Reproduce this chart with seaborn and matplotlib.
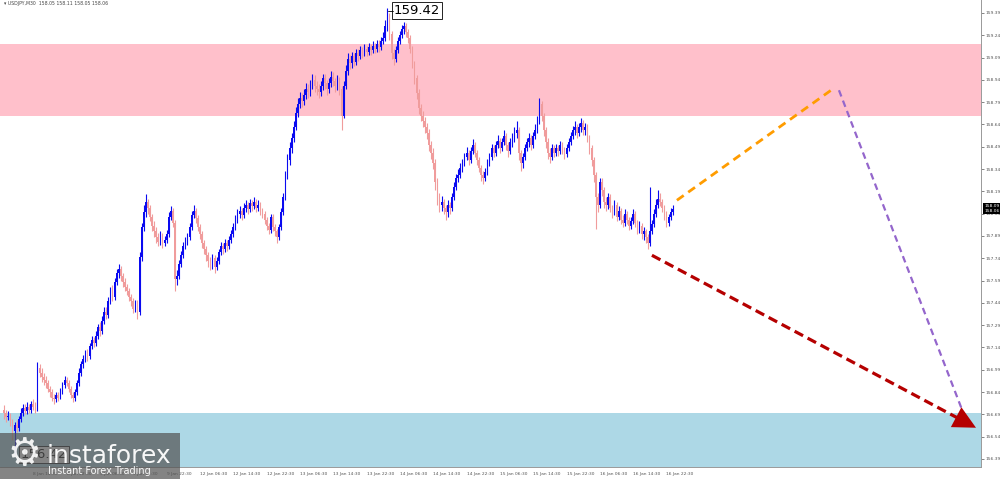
import numpy as np
import pandas as pd
import matplotlib
matplotlib.use("Agg")
import matplotlib.pyplot as plt
import seaborn as sns
from matplotlib.patches import Rectangle

# ---- values ----
first_open = 156.72
close = [
    156.70, 156.67, 156.68, 156.64, 156.58, 156.62, 156.60, 156.66, 156.70, 156.73,
    156.71, 156.74, 156.72, 156.76, 156.74, 156.73, 157.00, 156.97, 156.94, 156.92,
    156.90, 156.86, 156.84, 156.80, 156.79, 156.82, 156.80, 156.85, 156.89, 156.92,
    156.90, 156.86, 156.82, 156.80, 156.84, 156.90, 156.97, 157.03, 157.06, 157.10,
    157.08, 157.15, 157.19, 157.17, 157.22, 157.28, 157.25, 157.32, 157.38, 157.36,
    157.45, 157.52, 157.48, 157.58, 157.64, 157.67, 157.62, 157.58, 157.55, 157.52,
    157.48, 157.45, 157.40, 157.44, 157.38, 157.75, 157.95, 158.05, 158.12, 158.08,
    158.02, 157.96, 157.92, 157.88, 157.85, 157.89, 157.84, 157.86, 157.90, 158.02,
    158.06, 157.98, 157.60, 157.62, 157.70, 157.76, 157.82, 157.85, 157.88, 157.95,
    158.03, 158.06, 158.01, 157.95, 157.90, 157.84, 157.80, 157.76, 157.72, 157.70,
    157.74, 157.68, 157.72, 157.78, 157.82, 157.80, 157.84, 157.82, 157.86, 157.90,
    157.95, 158.00, 158.04, 158.06, 158.03, 158.08, 158.10, 158.07, 158.11, 158.09,
    158.12, 158.08, 158.10, 158.06, 158.04, 158.00, 157.96, 157.93, 158.02, 157.95,
    157.92, 157.88, 157.95, 158.05, 158.15, 158.30, 158.40, 158.48, 158.55, 158.62,
    158.72, 158.78, 158.82, 158.80, 158.84, 158.88, 158.86, 158.91, 158.94, 158.90,
    158.88, 158.86, 158.90, 158.95, 158.92, 158.88, 158.92, 158.96, 158.93, 158.90,
    158.94, 158.88, 158.70, 158.90, 159.00, 159.08, 159.05, 159.10, 159.06, 159.12,
    159.10, 159.14, 159.12, 159.15, 159.13, 159.16, 159.14, 159.17, 159.15, 159.18,
    159.16, 159.20, 159.22, 159.30, 159.36, 159.25, 159.12, 159.08, 159.14, 159.20,
    159.24, 159.28, 159.30, 159.26, 159.22, 159.15, 159.05, 158.95, 158.85, 158.75,
    158.70, 158.66, 158.62, 158.58, 158.50, 158.45, 158.38, 158.25, 158.15, 158.10,
    158.12, 158.08, 158.05, 158.10, 158.08, 158.15, 158.22, 158.28, 158.30, 158.35,
    158.38, 158.42, 158.45, 158.40, 158.46, 158.50, 158.45, 158.40, 158.35, 158.30,
    158.28, 158.32, 158.38, 158.42, 158.48, 158.45, 158.50, 158.53, 158.48, 158.52,
    158.56, 158.50, 158.46, 158.52, 158.55, 158.58, 158.60, 158.45, 158.38, 158.42,
    158.48, 158.52, 158.55, 158.50, 158.56, 158.60, 158.66, 158.78, 158.70, 158.60,
    158.52, 158.45, 158.42, 158.48, 158.45, 158.48, 158.46, 158.50, 158.47, 158.44,
    158.48, 158.52, 158.56, 158.60, 158.62, 158.58, 158.62, 158.65, 158.60, 158.62,
    158.55, 158.48, 158.40, 158.30, 158.15, 158.10, 158.25, 158.20, 158.12, 158.10,
    158.15, 158.08, 158.05, 158.10, 158.02, 158.06, 158.00, 157.98, 158.04, 158.00,
    157.96, 157.99, 158.04, 157.98, 157.93, 157.96, 157.90, 157.92, 157.88, 157.84,
    157.92, 157.97, 158.04, 158.10, 158.14, 158.12, 158.08, 158.04, 157.98, 158.02,
    158.05, 158.07,
]
high = [
    156.75, 156.72, 156.71, 156.70, 156.66, 156.64, 156.65, 156.68, 156.73, 156.76,
    156.76, 156.77, 156.76, 156.78, 156.79, 156.77, 157.04, 157.03, 157.00, 156.97,
    156.95, 156.92, 156.88, 156.86, 156.83, 156.84, 156.84, 156.87, 156.91, 156.95,
    156.94, 156.92, 156.88, 156.84, 156.86, 156.92, 157.00, 157.05, 157.09, 157.12,
    157.13, 157.17, 157.22, 157.21, 157.25, 157.30, 157.31, 157.35, 157.41, 157.41,
    157.48, 157.55, 157.56, 157.61, 157.67, 157.70, 157.69, 157.64, 157.61, 157.57,
    157.54, 157.50, 157.47, 157.46, 157.46, 157.78, 157.98, 158.10, 158.17, 158.14,
    158.10, 158.04, 157.99, 157.95, 157.91, 157.92, 157.91, 157.89, 157.93, 158.05,
    158.09, 158.08, 158.00, 157.66, 157.73, 157.79, 157.85, 157.88, 157.91, 157.98,
    158.06, 158.10, 158.08, 158.03, 157.97, 157.92, 157.86, 157.82, 157.78, 157.75,
    157.77, 157.76, 157.75, 157.80, 157.85, 157.84, 157.87, 157.86, 157.89, 157.93,
    157.98, 158.03, 158.07, 158.09, 158.08, 158.11, 158.13, 158.12, 158.14, 158.13,
    158.15, 158.14, 158.13, 158.12, 158.08, 158.06, 158.02, 157.98, 158.04, 158.04,
    157.97, 157.94, 157.97, 158.08, 158.18, 158.33, 158.44, 158.52, 158.58, 158.66,
    158.76, 158.82, 158.86, 158.85, 158.88, 158.92, 158.91, 158.94, 158.98, 158.97,
    158.93, 158.91, 158.93, 158.98, 158.98, 158.94, 158.95, 159.00, 158.99, 158.95,
    158.97, 158.96, 158.90, 158.93, 159.04, 159.12, 159.11, 159.13, 159.12, 159.15,
    159.15, 159.17, 159.16, 159.18, 159.17, 159.19, 159.18, 159.20, 159.19, 159.21,
    159.21, 159.23, 159.26, 159.34, 159.42, 159.39, 159.27, 159.15, 159.17, 159.23,
    159.27, 159.31, 159.33, 159.32, 159.28, 159.24, 159.17, 159.07, 158.97, 158.88,
    158.78, 158.73, 158.69, 158.65, 158.61, 158.53, 158.48, 158.41, 158.28, 158.18,
    158.16, 158.14, 158.10, 158.13, 158.12, 158.18, 158.25, 158.31, 158.34, 158.38,
    158.41, 158.45, 158.49, 158.47, 158.49, 158.54, 158.52, 158.47, 158.42, 158.37,
    158.33, 158.35, 158.41, 158.45, 158.51, 158.50, 158.53, 158.57, 158.55, 158.55,
    158.60, 158.58, 158.52, 158.55, 158.58, 158.62, 158.66, 158.62, 158.47, 158.45,
    158.51, 158.55, 158.58, 158.57, 158.59, 158.64, 158.70, 158.82, 158.80, 158.72,
    158.62, 158.55, 158.48, 158.51, 158.50, 158.51, 158.50, 158.53, 158.52, 158.49,
    158.51, 158.55, 158.59, 158.63, 158.66, 158.64, 158.65, 158.68, 158.67, 158.65,
    158.64, 158.57, 158.50, 158.42, 158.32, 158.18, 158.28, 158.28, 158.22, 158.15,
    158.18, 158.17, 158.10, 158.13, 158.12, 158.09, 158.08, 158.03, 158.07, 158.06,
    158.02, 158.02, 158.07, 158.06, 158.00, 157.99, 157.98, 157.95, 157.94, 157.90,
    158.22, 158.00, 158.07, 158.14, 158.20, 158.18, 158.14, 158.10, 158.06, 158.04,
    158.08, 158.10,
]
low = [
    156.66, 156.64, 156.65, 156.61, 156.52, 156.42, 156.57, 156.58, 156.64, 156.68,
    156.69, 156.69, 156.70, 156.70, 156.72, 156.70, 156.71, 156.94, 156.91, 156.89,
    156.87, 156.84, 156.81, 156.78, 156.76, 156.77, 156.78, 156.79, 156.83, 156.87,
    156.88, 156.84, 156.80, 156.77, 156.78, 156.82, 156.88, 156.95, 157.00, 157.04,
    157.05, 157.06, 157.13, 157.14, 157.15, 157.20, 157.22, 157.23, 157.30, 157.33,
    157.34, 157.43, 157.45, 157.46, 157.56, 157.61, 157.59, 157.55, 157.52, 157.49,
    157.45, 157.42, 157.37, 157.38, 157.33, 157.36, 157.72, 157.92, 158.02, 158.04,
    157.99, 157.92, 157.88, 157.84, 157.82, 157.83, 157.81, 157.82, 157.84, 157.88,
    158.00, 157.95, 157.52, 157.56, 157.60, 157.68, 157.74, 157.80, 157.83, 157.86,
    157.93, 158.01, 157.98, 157.92, 157.87, 157.81, 157.77, 157.72, 157.68, 157.66,
    157.67, 157.64, 157.66, 157.70, 157.76, 157.77, 157.78, 157.79, 157.80, 157.84,
    157.88, 157.93, 157.98, 158.01, 158.00, 158.01, 158.05, 158.04, 158.05, 158.06,
    158.07, 158.05, 158.06, 158.03, 158.01, 157.97, 157.93, 157.90, 157.91, 157.92,
    157.89, 157.84, 157.86, 157.93, 158.03, 158.13, 158.27, 158.37, 158.45, 158.52,
    158.60, 158.69, 158.75, 158.76, 158.77, 158.81, 158.82, 158.83, 158.88, 158.86,
    158.84, 158.82, 158.83, 158.87, 158.88, 158.84, 158.85, 158.89, 158.90, 158.86,
    158.87, 158.84, 158.60, 158.68, 158.88, 158.97, 159.01, 159.02, 159.03, 159.04,
    159.07, 159.08, 159.09, 159.10, 159.10, 159.11, 159.11, 159.12, 159.12, 159.13,
    159.13, 159.14, 159.18, 159.20, 159.27, 159.21, 159.08, 159.04, 159.06, 159.12,
    159.18, 159.22, 159.25, 159.23, 159.19, 159.12, 159.02, 158.91, 158.81, 158.71,
    158.66, 158.62, 158.58, 158.54, 158.46, 158.41, 158.34, 158.20, 158.10, 158.05,
    158.06, 158.04, 158.00, 158.02, 158.04, 158.06, 158.13, 158.20, 158.25, 158.28,
    158.32, 158.36, 158.40, 158.37, 158.38, 158.44, 158.42, 158.37, 158.32, 158.26,
    158.24, 158.26, 158.30, 158.36, 158.40, 158.42, 158.43, 158.48, 158.45, 158.46,
    158.50, 158.47, 158.42, 158.44, 158.49, 158.52, 158.55, 158.40, 158.33, 158.35,
    158.40, 158.46, 158.49, 158.47, 158.48, 158.54, 158.58, 158.64, 158.66, 158.56,
    158.48, 158.41, 158.38, 158.40, 158.42, 158.43, 158.43, 158.44, 158.44, 158.41,
    158.42, 158.46, 158.50, 158.54, 158.57, 158.55, 158.56, 158.59, 158.57, 158.57,
    158.52, 158.44, 158.36, 158.25, 157.94, 158.05, 158.08, 158.16, 158.08, 158.06,
    158.07, 158.05, 158.01, 158.03, 157.99, 158.00, 157.97, 157.95, 157.96, 157.97,
    157.93, 157.94, 157.97, 157.95, 157.90, 157.91, 157.87, 157.86, 157.84, 157.80,
    157.82, 157.90, 157.95, 158.02, 158.08, 158.09, 158.05, 158.00, 157.95, 157.96,
    158.00, 158.03,
]

price_ticks = [159.39, 159.24, 159.09, 158.94, 158.79, 158.64, 158.49, 158.34, 158.19, 158.04,
               157.89, 157.74, 157.59, 157.44, 157.29, 157.14, 156.99, 156.84, 156.69, 156.54, 156.39]
time_labels = ["8 Jan 14:30", "8 Jan 22:30", "9 Jan 06:30", "9 Jan 14:30", "9 Jan 22:30",
               "12 Jan 06:30", "12 Jan 14:30", "12 Jan 22:30", "13 Jan 06:30", "13 Jan 14:30",
               "13 Jan 22:30", "14 Jan 06:30", "14 Jan 14:30", "14 Jan 22:30", "15 Jan 06:30",
               "15 Jan 14:30", "15 Jan 22:30", "16 Jan 06:30", "16 Jan 14:30", "16 Jan 22:30"]

resist_zone = [158.70, 159.18]
support_zone = [156.30, 156.70]

orange_x = [323, 398]
orange_y = [158.13, 158.88]
purple_x = [400.8, 461.3]
purple_y = [158.87, 156.67]
red_x = [311, 466.6]
red_y = [157.76, 156.60]

bid_labels = ["158.09", "158.06"]

# ---- build frame ----
df = pd.DataFrame({"close": close, "high": high, "low": low})
df["open"] = [first_open] + close[:-1]
df["bar"] = np.arange(len(df))
df["bull"] = df["close"] >= df["open"]

sns.set_theme(style="white")
plt.rcParams["font.family"] = ["DejaVu Sans"]

W, H = 1000, 479
fig = plt.figure(figsize=(W / 100, H / 100), dpi=100)
ax = fig.add_axes([0, 12 / H, 981 / W, 467 / H])
ax.set_xlim(-2, 469)
ax.set_ylim(156.336, 159.477)

ax.axhspan(resist_zone[0], resist_zone[1], color="#ffc0cb", lw=0, zorder=0)
ax.axhspan(support_zone[0], support_zone[1], color="#add8e6", lw=0, zorder=0)

bull_c, bear_c = "#0a0af0", "#f09c9c"
colors = np.where(df["bull"], bull_c, bear_c)
ax.vlines(df["bar"], df["low"], df["high"], colors=colors, lw=0.8, zorder=2)
body = (df["close"] - df["open"]).abs().clip(lower=0.006)
ax.bar(df["bar"], body, bottom=df[["open", "close"]].min(axis=1), width=0.8,
       color=colors, lw=0, zorder=3)

# forecast paths
sns.lineplot(x=orange_x, y=orange_y, ax=ax, color="#ff9c00", lw=2.0,
             linestyle=(0, (3, 2)), sort=False, zorder=5)
sns.lineplot(x=purple_x, y=purple_y, ax=ax, color="#9466cc", lw=1.6,
             linestyle=(0, (3, 2)), sort=False, zorder=5)
sns.lineplot(x=red_x, y=red_y, ax=ax, color="#b50000", lw=2.3,
             linestyle=(0, (3, 1.6)), sort=False, zorder=6)
dx, dy = red_x[1] - red_x[0], red_y[1] - red_y[0]
ax.annotate("", xy=(red_x[1], red_y[1]), xytext=(red_x[1] - dx * 0.04, red_y[1] - dy * 0.04),
            arrowprops=dict(arrowstyle="-|>,head_length=0.9,head_width=0.45", color="#b50000",
                            lw=0, mutation_scale=18, shrinkA=0, shrinkB=0), zorder=7)

# high / low markers
hi_i = int(df["high"].idxmax())
lo_i = int(df["low"].idxmin())
ax.text(hi_i + 3, df["high"].max() - 0.015, f"{df['high'].max():.2f}", fontsize=9.5, color="black",
        va="center", ha="left", zorder=8, clip_on=False,
        bbox=dict(boxstyle="square,pad=0.15", fc="white", ec="black", lw=0.6))
ax.plot([hi_i + 0.5, hi_i + 2.6], [df["high"].max() - 0.015] * 2, color="black", lw=0.6, zorder=8)
ax.text(lo_i + 3, df["low"].min(), f"{df['low'].min():.2f}", fontsize=9.5, color="black",
        va="center", ha="left", zorder=8,
        bbox=dict(boxstyle="square,pad=0.15", fc="white", ec="black", lw=0.6))

# axes styling in terminal fashion
ax.yaxis.tick_right()
ax.set_yticks(price_ticks)
ax.set_yticklabels([f"{p:.2f}" for p in price_ticks])
ax.set_xticks([14 + 16 * k for k in range(len(time_labels))])
ax.set_xticklabels(time_labels, ha="left")
ax.tick_params(axis="y", length=2, width=0.5, pad=1.0, labelsize=3.2, colors="#555555", direction="out")
ax.tick_params(axis="x", length=2, width=0.5, pad=1.5, labelsize=3.2, colors="#555555", direction="out")
for side in ["top", "left"]:
    ax.spines[side].set_visible(False)
for side in ["right", "bottom"]:
    ax.spines[side].set_color("#999999")
    ax.spines[side].set_linewidth(0.7)
ax.set_xlabel("")
ax.set_ylabel("")

# current bid/ask tags on price scale
for lab in bid_labels:
    ax.text(470.5, float(lab), lab, fontsize=3.2, color="white", va="center", ha="left",
            clip_on=False, zorder=9,
            bbox=dict(boxstyle="square,pad=0.25", fc="black", ec="none"))

# header
fig.text(4 / W, 1 - 4 / H, "\u25be USDJPY,M30  158.05 158.11 158.05 158.06", fontsize=3.3,
         color="#444444", va="center", ha="left")

# watermark logo
fig.patches.append(Rectangle((0, 0), 180 / W, 46 / H, transform=fig.transFigure,
                             facecolor="#555555", alpha=0.72, lw=0, zorder=10))
fig.text(24 / W, 1 - 455 / H, "\u2699", fontsize=27, color="white", alpha=0.9,
         va="center", ha="center", zorder=11)
fig.text(47 / W, 1 - 463 / H, "instaforex", fontsize=18, color="white", alpha=0.95,
         va="baseline", ha="left", zorder=11)
fig.text(48 / W, 1 - 474 / H, "Instant Forex Trading", fontsize=7, color="white", alpha=0.95,
         va="baseline", ha="left", zorder=11)

fig.savefig("out.png", dpi=100)
